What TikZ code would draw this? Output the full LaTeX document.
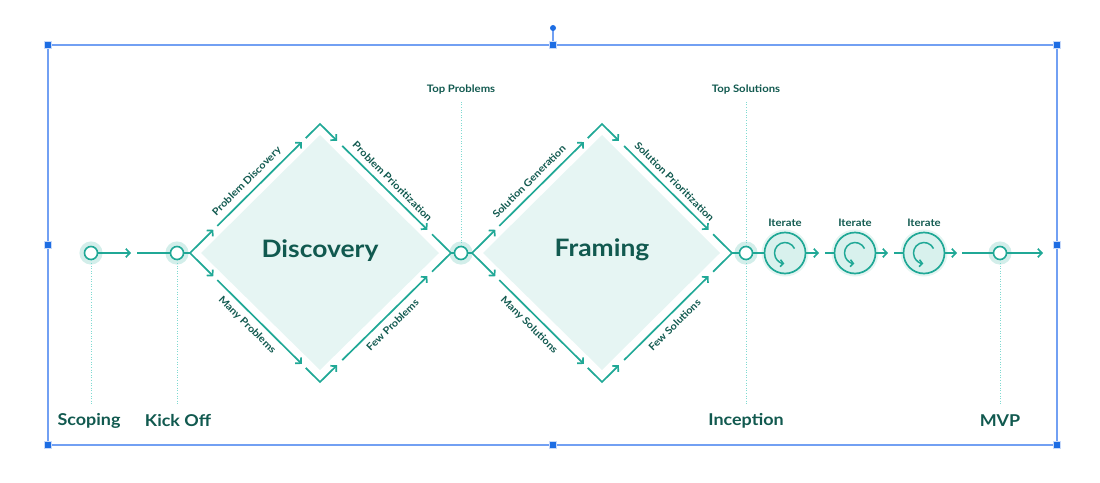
\documentclass[tikz,border=0pt]{standalone}
\usepackage{fontspec}
\setmainfont{Lato}[FakeStretch=1.1]
\usetikzlibrary{arrows.meta,calc}
\definecolor{lineteal}{HTML}{20A896}
\definecolor{darkteal}{HTML}{11594F}
\definecolor{dfill}{HTML}{E6F5F3}
\definecolor{halo}{HTML}{D3EEEA}
\definecolor{iterfill}{HTML}{D8F1ED}
\definecolor{halotwo}{HTML}{E4F5F2}
\definecolor{dotcol}{HTML}{7FDAD1}
\definecolor{frameblue}{HTML}{72A0F3}
\definecolor{handleblue}{HTML}{1D6DE3}
\newcommand\dchain[3]{%
  \draw[arr] (#1) -- ($(#1)!0.18!(#2)$);
  \draw[arr] ($(#1)!0.21!(#2)$) -- ($(#1)!0.86!(#2)$);
  \draw[arr] ($(#1)!0.89!(#2)$) -- (#2) -- ($(#2)!0.13!(#3)$);
  \draw[arr] ($(#2)!0.17!(#3)$) -- ($(#2)!0.82!(#3)$);
  \draw[flow] ($(#2)!0.855!(#3)$) -- (#3);
}
\begin{document}
\begin{tikzpicture}[x=1pt,y=-1pt,
  flow/.style={draw=lineteal, line width=1.7pt},
  arr/.style={flow, -{Straight Barb[length=4pt,width=8.5pt]}},
  milestone/.style={circle, draw=lineteal, fill=white, line width=1.6pt, minimum size=13pt, inner sep=0pt, preaction={draw=halo, line width=10pt}},
  iter/.style={circle, draw=lineteal, fill=iterfill, line width=1.7pt, minimum size=41pt, inner sep=0pt, preaction={draw=halotwo, line width=6pt}},
  dotl/.style={draw=dotcol, line width=0.8pt, dash pattern=on 1pt off 1.6pt},
  small/.style={font=\fontsize{10}{12}\selectfont\bfseries, text=darkteal, inner sep=0pt},
  toplbl/.style={font=\fontsize{10.3}{12}\selectfont\bfseries, text=darkteal, inner sep=0pt},
  big/.style={font=\fontsize{24}{28}\selectfont\bfseries, text=darkteal, inner sep=0pt},
  bottom/.style={font=\fontsize{16.3}{20}\selectfont\bfseries, text=darkteal, inner sep=0pt},
  handle/.style={rectangle, fill=handleblue, draw=frameblue!40, line width=0.6pt, minimum size=6.5pt, inner sep=0pt}
]
\useasboundingbox (0,0) rectangle (1100,482);

% selection frame
\draw[frameblue, line width=2pt] (48,45) rectangle (1057,445);
\draw[frameblue, line width=1.5pt] (553,45) -- (553,28);
\fill[handleblue] (553,28) circle (3pt);
\foreach \hx/\hy in {48/45,553/45,1057/45,48/245,1057/245,48/445,553/445,1057/445}
  \node[handle] at (\hx,\hy) {};

% diamond vertices
\coordinate (DL) at (190,253);
\coordinate (DT) at (320,124);
\coordinate (DR) at (451,253);
\coordinate (DB) at (320,382);
\coordinate (FL) at (472,253);
\coordinate (FT) at (602,124);
\coordinate (FR) at (732,253);
\coordinate (FB) at (602,382);

% diamond fills
\fill[dfill] ($(DL)+(11,0)$) -- ($(DT)+(0,11)$) -- ($(DR)+(-12,0)$) -- ($(DB)+(0,-12)$) -- cycle;
\fill[dfill] ($(FL)+(11,0)$) -- ($(FT)+(0,11)$) -- ($(FR)+(-12,0)$) -- ($(FB)+(0,-12)$) -- cycle;

% milestones
\node[milestone] (sc) at (91,253) {};
\node[milestone] (ko) at (177,253) {};
\node[milestone] (tp) at (461,253) {};
\node[milestone] (inc) at (746,253) {};
\node[iter] (it1) at (785,253) {};
\node[iter] (it2) at (855,253) {};
\node[iter] (it3) at (924,253) {};
\node[milestone] (mvp) at (1000,253) {};

% dotted guides
\coordinate (scd) at (91,405);
\coordinate (kod) at (177,405);
\coordinate (tpu) at (461,101);
\coordinate (incu) at (746,101);
\coordinate (incd) at (746,405);
\coordinate (mvpd) at (1000,405);
\draw[dotl] (sc.south) -- (scd);
\draw[dotl] (ko.south) -- (kod);
\draw[dotl] (tp.north) -- (tpu);
\draw[dotl] (inc.north) -- (incu);
\draw[dotl] (inc.south) -- (incd);
\draw[dotl] (mvp.south) -- (mvpd);

% horizontal flow
\coordinate (g1) at (131,253); \coordinate (g1b) at (137,253);
\coordinate (g2) at (819,253); \coordinate (g2b) at (825,253);
\coordinate (g3) at (888,253); \coordinate (g3b) at (894,253);
\coordinate (g4) at (957,253); \coordinate (g4b) at (962,253);
\coordinate (g5) at (1043,253);
\draw[arr] (sc.east) -- (g1);
\draw[flow] (g1b) -- (ko.west);
\draw[flow] (ko.east) -- (DL);
\draw[flow] (DR) -- (tp.west);
\draw[flow] (tp.east) -- (FL);
\draw[flow] (FR) -- (inc.west);
\draw[flow] (inc.east) -- (it1.west);
\draw[arr] (it1.east) -- (g2);
\draw[flow] (g2b) -- (it2.west);
\draw[arr] (it2.east) -- (g3);
\draw[flow] (g3b) -- (it3.west);
\draw[arr] (it3.east) -- (g4);
\draw[flow] (g4b) -- (mvp.west);
\draw[arr] (mvp.east) -- (g5);

% diamond edges
\dchain{DL}{DT}{DR}
\dchain{DL}{DB}{DR}
\dchain{FL}{FT}{FR}
\dchain{FL}{FB}{FR}

% iterate icons
\foreach \n in {it1,it2,it3}
  \draw[draw=lineteal, line width=1.5pt, -{Straight Barb[length=3pt,width=7pt]}]
    ([shift={(25:10.5pt)}]\n.center) arc[start angle=25, end angle=266, radius=10.5pt];

% labels
\node[big] (ldisc) at (320,251) {Discovery};
\node[big] (lfram) at (602,250) {Framing};
\node[small, rotate=45] (l1) at (247,181.5) {Problem Discovery};
\node[small, rotate=-45] (l2) at (392.5,181.5) {Problem Prioritization};
\node[small, rotate=-45] (l3) at (247,325) {Many Problems};
\node[small, rotate=45] (l4) at (392.5,325) {Few Problems};
\node[small, rotate=45] (l5) at (529,181.5) {Solution Generation};
\node[small, rotate=-45] (l6) at (674.5,181.5) {Solution Prioritization};
\node[small, rotate=-45] (l7) at (529,325) {Many Solutions};
\node[small, rotate=45] (l8) at (674.5,325) {Few Solutions};
\node[toplbl] (ltp) at (461,90) {Top Problems};
\node[toplbl] (lts) at (746,90) {Top Solutions};
\node[toplbl] (li1) at (785,222.5) {Iterate};
\node[toplbl] (li2) at (855,222.5) {Iterate};
\node[toplbl] (li3) at (924,222.5) {Iterate};
\node[bottom] (lsc) at (89,421) {Scoping};
\node[bottom] (lko) at (178,421) {Kick Off};
\node[bottom] (linc) at (746,421) {Inception};
\node[bottom] (lmvp) at (1000,421) {MVP};
\end{tikzpicture}
\end{document}
